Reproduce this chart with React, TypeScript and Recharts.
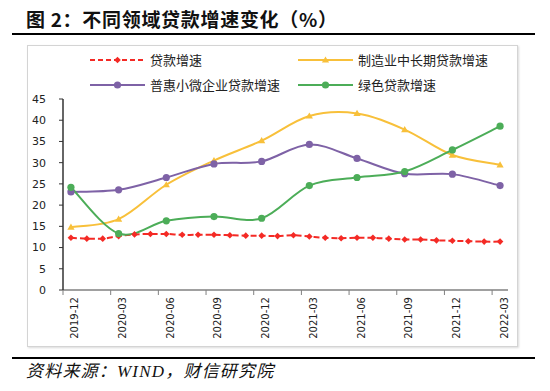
import React from 'react';
import { LineChart, Line, XAxis, YAxis, Legend } from 'recharts';

const months = [
  '2019-12', '2020-01', '2020-02', '2020-03', '2020-04', '2020-05', '2020-06',
  '2020-07', '2020-08', '2020-09', '2020-10', '2020-11', '2020-12', '2021-01',
  '2021-02', '2021-03', '2021-04', '2021-05', '2021-06', '2021-07', '2021-08',
  '2021-09', '2021-10', '2021-11', '2021-12', '2022-01', '2022-02', '2022-03',
];

// monthly
const loanGrowth = [
  12.3, 12.1, 12.1, 12.7, 13.1, 13.2, 13.2, 13.0, 13.0, 13.0, 12.9, 12.8, 12.8, 12.7,
  12.9, 12.6, 12.3, 12.2, 12.3, 12.3, 12.1, 11.9, 11.9, 11.7, 11.6, 11.5, 11.4, 11.4,
];

// quarterly (2019-12 ... 2022-03)
const manufacturing = [14.8, 16.7, 24.8, 30.5, 35.2, 41.0, 41.6, 37.8, 31.8, 29.5];
const inclusive = [23.1, 23.6, 26.5, 29.7, 30.3, 34.3, 31.0, 27.4, 27.3, 24.6];
const greenLoan = [24.2, 13.3, 16.3, 17.3, 16.9, 24.6, 26.5, 27.9, 33.0, 38.6];

const yTicks = [0, 5, 10, 15, 20, 25, 30, 35, 40, 45];

const data = months.map((m, i) => ({
  month: m,
  loan: loanGrowth[i],
  manu: i % 3 === 0 ? manufacturing[i / 3] : null,
  incl: i % 3 === 0 ? inclusive[i / 3] : null,
  green: i % 3 === 0 ? greenLoan[i / 3] : null,
}));

const RED = '#F42A25';
const YELLOW = '#F8C03A';
const PURPLE = '#7E62A6';
const GREEN = '#4CAD58';

const PLOT_LEFT = 63;
const PLOT_RIGHT = 508;
const BAND = (PLOT_RIGHT - PLOT_LEFT) / months.length;

// Excel-like smoothing (Catmull-Rom through the points)
const smooth = (context: any) => {
  let pts: number[][] = [];
  return {
    areaStart() {},
    areaEnd() {},
    lineStart() {
      pts = [];
    },
    point(x: number, y: number) {
      pts.push([+x, +y]);
    },
    lineEnd() {
      if (!pts.length) return;
      context.moveTo(pts[0][0], pts[0][1]);
      for (let i = 0; i < pts.length - 1; i++) {
        const p0 = pts[i - 1] || pts[i];
        const p1 = pts[i];
        const p2 = pts[i + 1];
        const p3 = pts[i + 2] || p2;
        context.bezierCurveTo(
          p1[0] + (p2[0] - p0[0]) / 6,
          p1[1] + (p2[1] - p0[1]) / 6,
          p2[0] - (p3[0] - p1[0]) / 6,
          p2[1] - (p3[1] - p1[1]) / 6,
          p2[0],
          p2[1]
        );
      }
    },
  };
};

const Marker = ({ kind, cx, cy, color }: any) => {
  if (kind === 'diamond') {
    return <path d={`M${cx},${cy - 3.3}L${cx + 3.3},${cy}L${cx},${cy + 3.3}L${cx - 3.3},${cy}Z`} fill={color} />;
  }
  if (kind === 'triangle') {
    return <path d={`M${cx},${cy - 3.6}L${cx + 3.6},${cy + 2.6}L${cx - 3.6},${cy + 2.6}Z`} fill={color} />;
  }
  return <circle cx={cx} cy={cy} r={3.6} fill={color} />;
};

const makeDot = (kind: string, color: string) => (props: any) => {
  const { cx, cy, index } = props;
  if (cx == null || cy == null || props.value == null) return <g key={index} />;
  return <Marker key={index} kind={kind} cx={cx} cy={cy} color={color} />;
};

const legendItems = [
  { name: '贷款增速', color: RED, kind: 'diamond', dash: '5 3', left: 90, top: 54 },
  { name: '制造业中长期贷款增速', color: YELLOW, kind: 'triangle', dash: undefined, left: 298, top: 54 },
  { name: '普惠小微企业贷款增速', color: PURPLE, kind: 'circle', dash: undefined, left: 90, top: 79 },
  { name: '绿色贷款增速', color: GREEN, kind: 'circle', dash: undefined, left: 298, top: 79 },
];

const LegendContent = () => (
  <div style={{ position: 'relative', width: 550, height: 100 }}>
    {legendItems.map((it) => (
      <div key={it.name} style={{ position: 'absolute', left: it.left, top: it.top, height: 12, display: 'flex', alignItems: 'center' }}>
        <svg width={55} height={12} style={{ display: 'block' }}>
          <line x1={0} y1={6} x2={55} y2={6} stroke={it.color} strokeWidth={2} strokeDasharray={it.dash} />
          <Marker kind={it.kind} cx={27.5} cy={6} color={it.color} />
        </svg>
        <span style={{ marginLeft: 5, fontSize: 13, color: '#222', fontFamily: '"Noto Sans CJK SC", sans-serif', whiteSpace: 'nowrap', lineHeight: '12px' }}>
          {it.name}
        </span>
      </div>
    ))}
  </div>
);

const XTick = (props: any) => {
  const { x, y, payload } = props;
  const bx = x - BAND / 2;
  return (
    <g>
      <line x1={bx} y1={y} x2={bx} y2={y + 5} stroke="#808080" strokeWidth={1} />
      <text
        x={x + 4}
        y={y + 7}
        transform={`rotate(-90, ${x + 4}, ${y + 7})`}
        textAnchor="end"
        dominantBaseline="central"
        fontSize={10}
        fontFamily='"DejaVu Sans", sans-serif'
        fill="#222"
      >
        {payload.value}
      </text>
    </g>
  );
};

export default function App() {
  return (
    <div style={{ position: 'absolute', left: 0, top: 0, width: 550, height: 391, background: '#fff', overflow: 'hidden' }}>
      <div
        style={{
          position: 'absolute',
          left: 26,
          top: 8,
          fontSize: 19,
          lineHeight: '22px',
          fontWeight: 700,
          letterSpacing: 0.7,
          color: '#111',
          fontFamily: '"Noto Sans CJK SC", sans-serif',
          whiteSpace: 'nowrap',
        }}
      >
        图 2：不同领域贷款增速变化（%）
      </div>
      <div style={{ position: 'absolute', left: 12, top: 33, width: 523, height: 2, background: '#000' }} />
      <div
        style={{
          position: 'absolute',
          left: 27,
          top: 45,
          width: 489,
          height: 300,
          border: '1px solid #d4d4d4',
          boxShadow: '1px 1px 2px rgba(0,0,0,0.15)',
        }}
      />
      <div style={{ position: 'absolute', left: 0, top: 0 }}>
        <LineChart width={550} height={391} data={data} margin={{ top: 99, right: 550 - PLOT_RIGHT, bottom: 51, left: 23 }}>
          <XAxis
            dataKey="month"
            scale="band"
            interval={2}
            height={50}
            tickLine={false}
            tickSize={0}
            tickMargin={0}
            axisLine={{ stroke: '#808080', strokeWidth: 1.5 }}
            tick={<XTick />}
          />
          <YAxis
            width={40}
            domain={[0, 45]}
            ticks={yTicks}
            interval={0}
            tickSize={4}
            tickMargin={13}
            axisLine={{ stroke: '#333', strokeWidth: 1.5 }}
            tickLine={{ stroke: '#333' }}
            tick={{ fontSize: 11, fill: '#222', fontFamily: '"DejaVu Sans", sans-serif' }}
          />
          <Legend
            layout="vertical"
            align="center"
            verticalAlign="middle"
            wrapperStyle={{ left: 0, top: 0, width: 550, height: 100 }}
            content={<LegendContent />}
          />
          <Line
            dataKey="loan"
            name="贷款增速"
            type={smooth as any}
            stroke={RED}
            strokeWidth={2}
            strokeDasharray="6 3"
            dot={makeDot('diamond', RED)}
            isAnimationActive={false}
          />
          <Line
            dataKey="manu"
            name="制造业中长期贷款增速"
            type={smooth as any}
            stroke={YELLOW}
            strokeWidth={2}
            connectNulls
            dot={makeDot('triangle', YELLOW)}
            isAnimationActive={false}
          />
          <Line
            dataKey="incl"
            name="普惠小微企业贷款增速"
            type={smooth as any}
            stroke={PURPLE}
            strokeWidth={2}
            connectNulls
            dot={makeDot('circle', PURPLE)}
            isAnimationActive={false}
          />
          <Line
            dataKey="green"
            name="绿色贷款增速"
            type={smooth as any}
            stroke={GREEN}
            strokeWidth={2}
            connectNulls
            dot={makeDot('circle', GREEN)}
            isAnimationActive={false}
          />
        </LineChart>
      </div>
      <div style={{ position: 'absolute', left: 12, top: 357, width: 523, height: 2, background: '#000' }} />
      <div
        style={{
          position: 'absolute',
          left: 26,
          top: 362,
          fontSize: 17,
          lineHeight: '20px',
          letterSpacing: 1.2,
          fontStyle: 'italic',
          color: '#111',
          fontFamily: '"Liberation Serif", "Noto Sans CJK SC", serif',
          whiteSpace: 'nowrap',
        }}
      >
        资料来源：WIND，财信研究院
      </div>
    </div>
  );
}
